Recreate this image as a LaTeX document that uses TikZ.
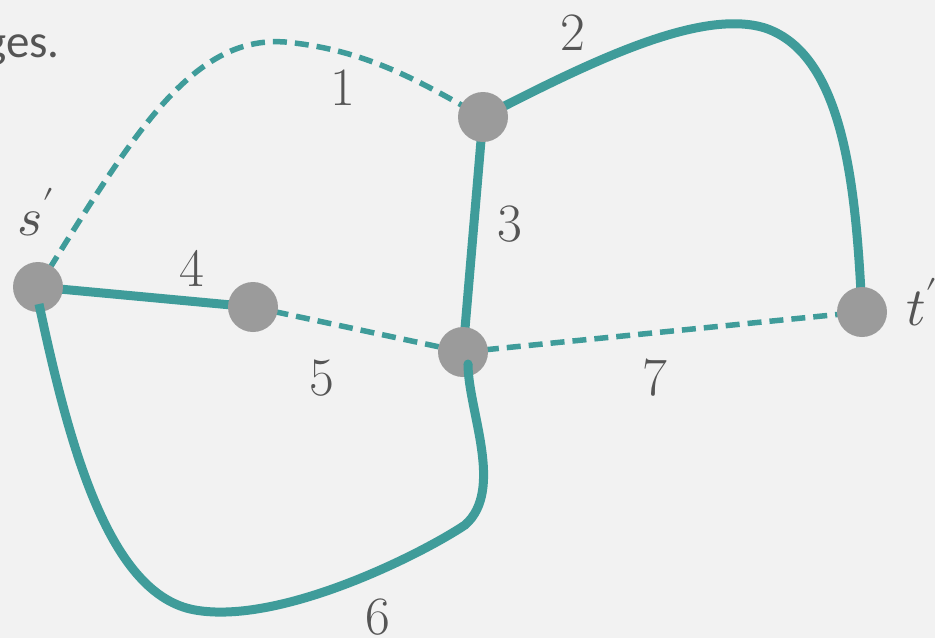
\documentclass[tikz,border=0pt]{standalone}
\usepackage{fontspec}
\usepackage{unicode-math}
\newfontfamily\labelsans{Carlito}
\definecolor{bg}{HTML}{F2F2F2}
\definecolor{edgec}{HTML}{3F9C9A}
\definecolor{nodec}{HTML}{9B9B9B}
\definecolor{txt}{HTML}{555555}
\tikzset{
  vert/.style={circle, fill=nodec, minimum size=50pt, inner sep=0pt},
  solidedge/.style={draw=edgec, line width=9pt},
  dashedge/.style={draw=edgec, line width=5.5pt, dash pattern=on 14pt off 8pt},
  lab/.style={text=txt, font=\fontsize{54}{60}\selectfont, inner sep=0pt},
}
\begin{document}
\begin{tikzpicture}[x=1pt,y=-1pt]
\fill[bg] (0,0) rectangle (935,638);
\useasboundingbox (0,0) rectangle (935,638);
% node positions
\coordinate (sp) at (38,287);
\coordinate (a) at (253,307);
\coordinate (b) at (483,117);
\coordinate (c) at (463,352);
\coordinate (tp) at (862,312);
\coordinate (c6) at (468,364);
\coordinate (s6) at (39,304);
% edges under nodes
\path[dashedge] (sp) .. controls (130,140) and (190,35) .. (285,42) .. controls (370,50) and (425,85) .. (b);
\path[solidedge] (b) .. controls (590,62) and (700,8) .. (765,28) .. controls (845,55) and (856,190) .. (tp);
\path[solidedge] (b) -- (c);
\path[solidedge] (sp) -- (a);
\path[dashedge] (a) -- (c);
\path[dashedge] (c) -- (tp);
% nodes
\node[vert] (nsp) at (sp) {};
\node[vert] (na) at (a) {};
\node[vert] (nb) at (b) {};
\node[vert] (nc) at (c) {};
\node[vert] (ntp) at (tp) {};
% edge 6 over nodes
\path[solidedge, line cap=butt] (s6) .. controls (70,450) and (110,595) .. (195,610) .. controls (280,625) and (420,555) .. (465,525) .. controls (505,490) and (468,410) .. (c6);
\fill[edgec] (c6) circle (4.5pt);
% labels
\node[lab] (l1) at (343,88) {1};
\node[lab] (l2) at (573,33) {2};
\node[lab] (l3) at (510,224) {3};
\node[lab] (l4) at (192,268) {4};
\node[lab] (l5) at (322,378) {5};
\node[lab] (l6) at (378,617) {6};
\node[lab] (l7) at (655,378) {7};
\node[lab] (ls) at (36,212) {$s'$};
\node[lab, anchor=west] (lt) at (906,302) {$t'$};
\node[text=txt, font=\labelsans\fontsize{47}{56}\selectfont, inner sep=0pt, anchor=base east] (ges) at (60,57) {ges.};
\end{tikzpicture}
\end{document}
